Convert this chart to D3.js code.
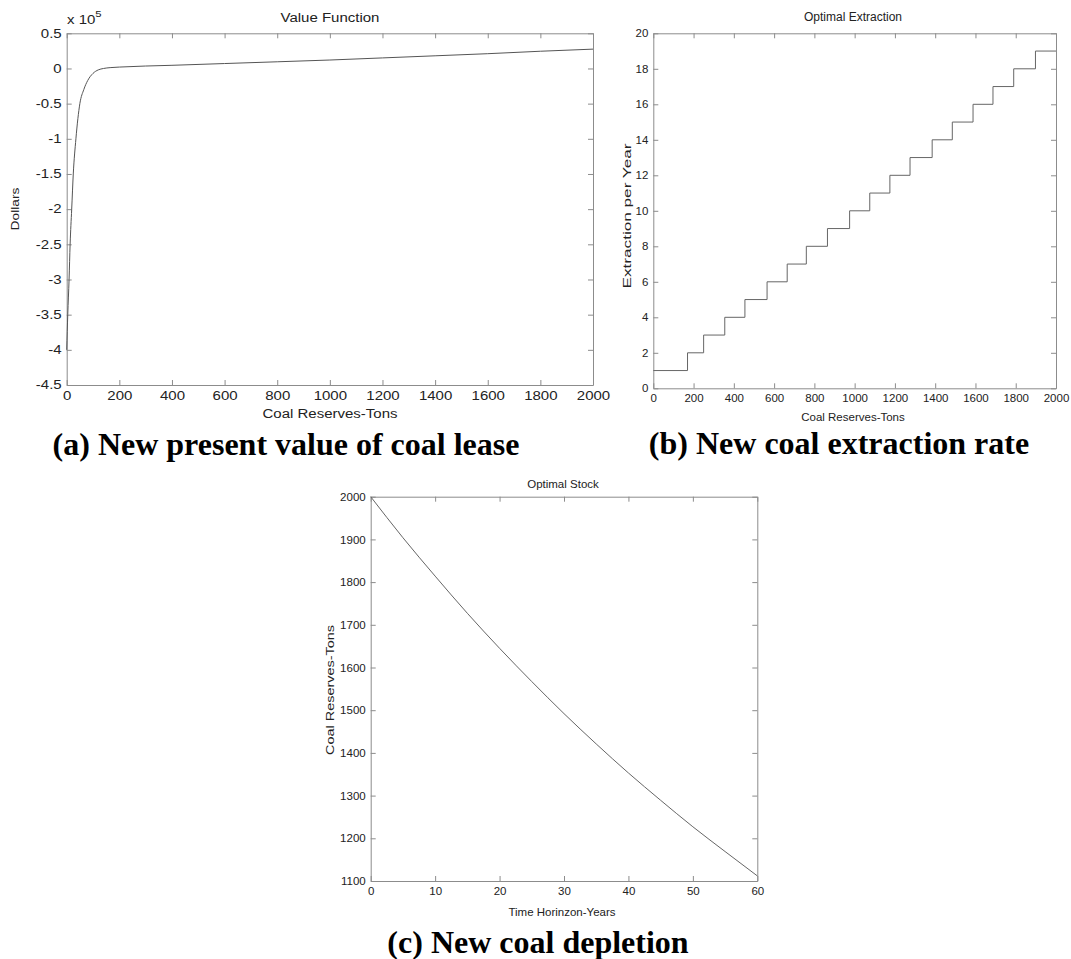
<!DOCTYPE html>
<html>
<head>
<meta charset="utf-8">
<script src="https://cdn.jsdelivr.net/npm/d3@7"></script>
<style>
  body { margin: 0; background: #fff; }
  svg { display: block; }
  text { font-family: "Liberation Sans", Arial, sans-serif; fill: #222; }
  .caption { font-family: "Liberation Serif", "Times New Roman", serif; font-weight: bold; fill: #000; }
</style>
</head>
<body>
<svg id="chart" width="1071" height="959"></svg>
<script>
// ---------- data ----------
// (a) Value function (dollars, in units of 1e5)
const valueReserves = [0, 4, 9, 13, 19, 25, 35, 50, 65, 80, 100, 120, 140, 165, 200, 400, 600, 800, 1000, 1200, 1400, 1600, 1800, 2000];
const valueDollars  = [-4.0, -3.5, -3.0, -2.5, -2.0, -1.5, -1.0, -0.5, -0.3, -0.17, -0.07, -0.02, 0.0, 0.012, 0.02, 0.045, 0.07, 0.095, 0.12, 0.15, 0.18, 0.21, 0.245, 0.275];
const valueYTicks = [0.5, 0, -0.5, -1, -1.5, -2, -2.5, -3, -3.5, -4, -4.5];
const reserveTicks = [0, 200, 400, 600, 800, 1000, 1200, 1400, 1600, 1800, 2000];

// (b) Optimal extraction: reserve level where each step starts, and extraction level
const stepStart = [0, 170, 250, 355, 455, 565, 665, 760, 865, 975, 1075, 1175, 1275, 1385, 1485, 1588, 1687, 1790, 1898, 2000];
const stepLevel = [1, 2, 3, 4, 5, 6, 7, 8, 9, 10, 11, 12, 13, 14, 15, 16, 17, 18, 19, 19];
const extractYTicks = [0, 2, 4, 6, 8, 10, 12, 14, 16, 18, 20];

// (c) Optimal stock over time
const years = [0, 5, 10, 15, 20, 25, 30, 35, 40, 45, 50, 55, 60];
const stock = [2000, 1904, 1814, 1727, 1645, 1567, 1492, 1421, 1353, 1289, 1227, 1169, 1112];
const yearTicks = [0, 10, 20, 30, 40, 50, 60];
const stockTicks = [1100, 1200, 1300, 1400, 1500, 1600, 1700, 1800, 1900, 2000];

const svg = d3.select("#chart");
const plain = d => String(d);   // hyphen-minus like the reference

// ---------- helper: MATLAB style box axes ----------
function boxAxes(g, x, y, xt, yt, fs) {
  const [x0, x1] = x.range();
  const [y0, y1] = y.range(); // y0 bottom, y1 top
  const tl = 5;
  g.append("g").attr("transform", `translate(0,${y0})`)
    .call(d3.axisBottom(x).tickValues(xt).tickSizeInner(-tl).tickSizeOuter(0).tickPadding(6).tickFormat(plain))
    .call(s => s.selectAll("text").style("font-size", fs + "px").attr("fill", "#222"));
  g.append("g").attr("transform", `translate(0,${y1})`)
    .call(d3.axisTop(x).tickValues(xt).tickSizeInner(-tl).tickSizeOuter(0).tickFormat(""));
  g.append("g").attr("transform", `translate(${x0},0)`)
    .call(d3.axisLeft(y).tickValues(yt).tickSizeInner(-tl).tickSizeOuter(0).tickPadding(5).tickFormat(plain))
    .call(s => s.selectAll("text").style("font-size", fs + "px").attr("fill", "#222"));
  g.append("g").attr("transform", `translate(${x1},0)`)
    .call(d3.axisRight(y).tickValues(yt).tickSizeInner(-tl).tickSizeOuter(0).tickFormat(""));
  g.selectAll(".domain").attr("stroke", "#8c8c8c");
  g.selectAll(".tick line").attr("stroke", "#8c8c8c");
}

function fitLen(sel, len) {
  sel.attr("textLength", len).attr("lengthAdjust", "spacingAndGlyphs");
}

// ---------- panel (a) ----------
const gA = svg.append("g");
const xA = d3.scaleLinear().domain([0, 2000]).range([66.7, 593]);
const yA = d3.scaleLinear().domain([-4.5, 0.5]).range([385, 33.3]);
boxAxes(gA, xA, yA, reserveTicks, valueYTicks, 12);
gA.append("path")
  .datum(valueReserves.map((r, i) => [r, valueDollars[i]]))
  .attr("fill", "none").attr("stroke", "#555").attr("stroke-width", 1)
  .attr("d", d3.line().x(d => xA(d[0])).y(d => yA(d[1])).curve(d3.curveMonotoneX));
gA.append("text").attr("x", 330).attr("y", 22).attr("text-anchor", "middle").style("font-size", "12px").text("Value Function");
gA.append("text").attr("x", 330).attr("y", 418).attr("text-anchor", "middle").style("font-size", "12px").text("Coal Reserves-Tons");
gA.append("text").attr("transform", "translate(19,209) rotate(-90)").attr("text-anchor", "middle").style("font-size", "11px").text("Dollars");
const expo = gA.append("text").attr("x", 67).attr("y", 24).style("font-size", "12px");
expo.append("tspan").text("x 10");
expo.append("tspan").attr("dy", -7).style("font-size", "9px").text("5");

// horizontally stretch panel (a) text as in the reference
gA.selectAll("text").each(function () {
  const len = this.getComputedTextLength();
  if (len > 0) fitLen(d3.select(this), len * 1.25);
});

// ---------- panel (b) ----------
const gB = svg.append("g");
const xB = d3.scaleLinear().domain([0, 2000]).range([653.3, 1056]);
const yB = d3.scaleLinear().domain([0, 20]).range([388.3, 33.3]);
boxAxes(gB, xB, yB, reserveTicks, extractYTicks, 11.5);
gB.append("path")
  .datum(stepStart.map((r, i) => [r, stepLevel[i]]))
  .attr("fill", "none").attr("stroke", "#666").attr("stroke-width", 1)
  .attr("d", d3.line().x(d => xB(d[0])).y(d => yB(d[1])).curve(d3.curveStepAfter));
gB.append("text").attr("x", 853).attr("y", 21).attr("text-anchor", "middle").style("font-size", "12px").text("Optimal Extraction");
gB.append("text").attr("x", 853).attr("y", 421).attr("text-anchor", "middle").style("font-size", "11.5px").text("Coal Reserves-Tons");
gB.append("text").attr("transform", "translate(631,216) rotate(-90)").attr("text-anchor", "middle").style("font-size", "11.5px")
  .text("Extraction per Year").call(fitLen, 145);

// ---------- panel (c) ----------
const gC = svg.append("g");
const xC = d3.scaleLinear().domain([0, 60]).range([370.7, 757.3]);
const yC = d3.scaleLinear().domain([1100, 2000]).range([881, 496.7]);
boxAxes(gC, xC, yC, yearTicks, stockTicks, 11.5);
gC.append("path")
  .datum(years.map((t, i) => [t, stock[i]]))
  .attr("fill", "none").attr("stroke", "#666").attr("stroke-width", 1)
  .attr("d", d3.line().x(d => xC(d[0])).y(d => yC(d[1])).curve(d3.curveMonotoneX));
gC.append("text").attr("x", 563).attr("y", 488).attr("text-anchor", "middle").style("font-size", "11.5px").text("Optimal Stock");
gC.append("text").attr("x", 562).attr("y", 916).attr("text-anchor", "middle").style("font-size", "11.5px").text("Time Horinzon-Years");
gC.append("text").attr("transform", "translate(334,690) rotate(-90)").attr("text-anchor", "middle").style("font-size", "11.5px")
  .text("Coal Reserves-Tons").call(fitLen, 130);

// ---------- captions ----------
svg.append("text").attr("class", "caption").attr("x", 286).attr("y", 455).attr("text-anchor", "middle").style("font-size", "32px")
  .text("(a) New present value of coal lease");
svg.append("text").attr("class", "caption").attr("x", 839).attr("y", 454).attr("text-anchor", "middle").style("font-size", "32px")
  .text("(b) New coal extraction rate");
svg.append("text").attr("class", "caption").attr("x", 538).attr("y", 953).attr("text-anchor", "middle").style("font-size", "32px")
  .text("(c) New coal depletion");
</script>
</body>
</html>
